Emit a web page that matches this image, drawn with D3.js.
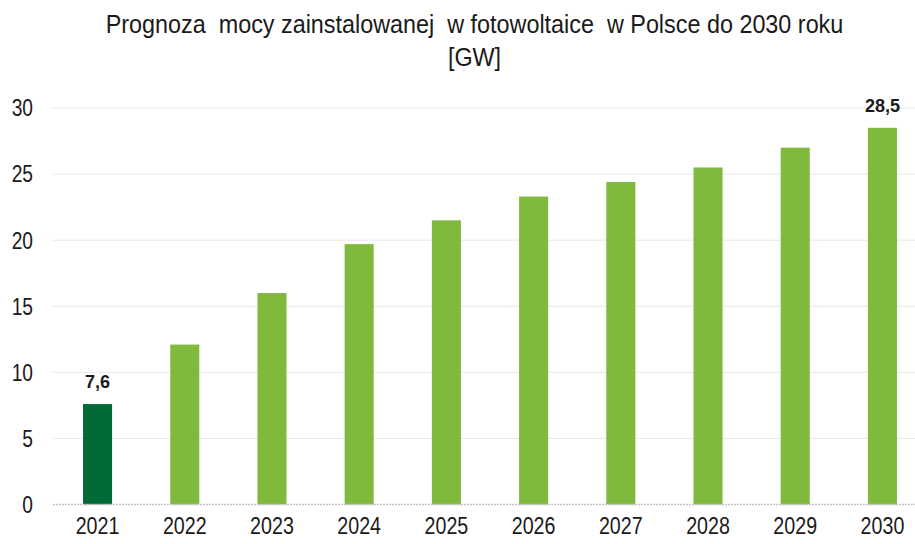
<!DOCTYPE html>
<html>
<head>
<meta charset="utf-8">
<title>Prognoza mocy PV</title>
<script src="https://d3js.org/d3.v7.min.js"></script>
<style>
	body { margin: 0; background: #fff; }
	text { font-family: "Liberation Sans Narrow", "Arial Narrow", "Liberation Sans", Arial, sans-serif; fill: #1a1a1a; }
</style>
</head>
<body>
<div id="chart"></div>
<script>
	// data
	var years = ["2021", "2022", "2023", "2024", "2025", "2026", "2027", "2028", "2029", "2030"];
	var capacity = [7.6, 12.1, 16.0, 19.7, 21.5, 23.3, 24.4, 25.5, 27.0, 28.5];
	var yTicks = [0, 5, 10, 15, 20, 25, 30];
	var labelled = ["2021", "2030"];
	var titleLines = ["Prognoza  mocy zainstalowanej  w fotowoltaice  w Polsce do 2030 roku", "[GW]"];

	var width = 915, height = 544;
	var plot = {left: 54, right: 926, top: 108, bottom: 504.5};
	// no narrow font installed, so squeeze the regular one
	var squeeze = 0.8;

	var svg = d3.select("#chart").append("svg")
		.attr("width", width)
		.attr("height", height);

	var x = d3.scaleBand().domain(years).range([plot.left, plot.right])
		.paddingInner(0.667).paddingOuter(0.333);
	var y = d3.scaleLinear().domain([0, 30]).range([plot.bottom, plot.top]);

	function place(px, py, s) {
		return "translate(" + px + "," + py + ") scale(" + s + ",1)";
	}

	// title
	svg.append("g").selectAll("text")
		.data(titleLines)
		.enter().append("text")
		.attr("transform", function(d, i) { return place(474.5, 33 + i * 33, 0.935); })
		.attr("text-anchor", "middle")
		.style("white-space", "pre")
		.style("font-size", "25px")
		.text(function(d) { return d; });

	// gridlines
	svg.append("g").selectAll("line")
		.data(yTicks.filter(function(t) { return t > 0; }))
		.enter().append("line")
		.attr("x1", 53).attr("x2", width)
		.attr("y1", function(d) { return y(d); })
		.attr("y2", function(d) { return y(d); })
		.attr("stroke", "#e6e6e6")
		.attr("stroke-width", 1);

	// y tick labels
	svg.append("g").selectAll("text")
		.data(yTicks)
		.enter().append("text")
		.attr("transform", function(d) { return place(33, y(d), squeeze); })
		.attr("dy", "0.35em")
		.attr("text-anchor", "end")
		.style("font-size", "24px")
		.text(function(d) { return d; });

	// bars
	svg.append("g").selectAll("rect")
		.data(years)
		.enter().append("rect")
		.attr("x", function(d) { return x(d); })
		.attr("width", x.bandwidth())
		.attr("y", function(d, i) { return y(capacity[i]); })
		.attr("height", function(d, i) { return y(0) - y(capacity[i]); })
		.attr("fill", function(d, i) { return i == 0 ? "#026a35" : "#7fba3d"; });

	// baseline
	svg.append("line")
		.attr("x1", 53).attr("x2", width)
		.attr("y1", y(0)).attr("y2", y(0))
		.attr("stroke", "#c4c4c4")
		.attr("stroke-width", 1.5)
		.attr("stroke-dasharray", "2,1");

	// x labels
	svg.append("g").selectAll("text")
		.data(years)
		.enter().append("text")
		.attr("transform", function(d) { return place(x(d) + x.bandwidth() / 2, 534, 0.82); })
		.attr("text-anchor", "middle")
		.style("font-size", "24px")
		.text(function(d) { return d; });

	// value labels on first and last bar
	svg.append("g").selectAll("text")
		.data(years.filter(function(d) { return labelled.indexOf(d) >= 0; }))
		.enter().append("text")
		.attr("transform", function(d) {
			return place(x(d) + x.bandwidth() / 2, y(capacity[years.indexOf(d)]) - 16, 0.95);
		})
		.attr("text-anchor", "middle")
		.style("font-size", "19px")
		.style("font-weight", "bold")
		.text(function(d) { return String(capacity[years.indexOf(d)]).replace(".", ","); });
</script>
</body>
</html>
